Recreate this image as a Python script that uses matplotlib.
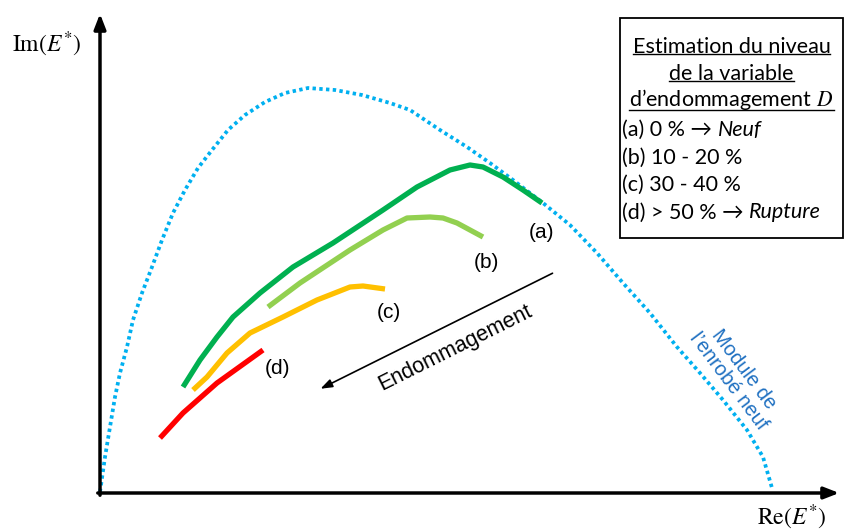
import matplotlib
matplotlib.use("Agg")
from matplotlib import pyplot as plt
from matplotlib.patches import Rectangle

# schematic values, Re / Im in arbitrary units (origin at axes crossing)
module_re = [0, 5, 10, 15, 20, 27, 33, 42, 52, 62, 73, 85, 98, 112, 128, 145, 165, 185, 208,
             235, 262, 290, 310, 340, 367, 390, 413, 443, 470, 497, 523, 550, 577, 600, 623,
             647, 663, 672]
module_im = [1, 36, 66, 96, 120, 146, 173, 200, 226, 253, 280, 303, 325, 343, 363, 378, 391,
             400, 405, 403, 398, 390, 383, 363, 346, 330, 313, 290, 268, 240, 210, 180, 146,
             120, 93, 63, 36, 5]

a_re = [83, 100, 117, 133, 160, 193, 233, 283, 317, 350, 370, 383, 403, 423, 442]
a_im = [106, 133, 156, 176, 200, 226, 250, 283, 306, 323, 328, 326, 316, 303, 290]
b_re = [168, 200, 250, 283, 307, 330, 343, 357, 383]
b_im = [186, 210, 243, 263, 275, 276, 275, 270, 256]
c_re = [93, 107, 127, 150, 183, 217, 250, 263, 285]
c_im = [103, 116, 140, 160, 176, 193, 206, 207, 204]
d_re = [60, 83, 117, 163]
d_im = [55, 80, 110, 143]

curves = [(a_re, a_im, '#00B050'), (b_re, b_im, '#92D050'),
          (c_re, c_im, '#FFC000'), (d_re, d_im, '#FF0000')]
curve_labels = ['(a)', '(b)', '(c)', '(d)']
label_pos = [(441, 261), (386, 231), (289, 181), (177, 125)]

title_lines = ['Estimation du niveau', 'de la variable', 'd\u2019endommagement $D$']
levels = [('(a) 0 % \u2192 ', 'Neuf'), ('(b) 10 - 20 %', ''),
          ('(c) 30 - 40 %', ''), ('(d) > 50 % \u2192 ', 'Rupture')]

fig = plt.figure(figsize=(8.46, 5.30), dpi=100)
ax = fig.add_axes([0, 0, 1, 1])
ax.set_xlim(-100, 746)
ax.set_ylim(-37, 493)
ax.axis('off')

# axes with arrows
ax.annotate('', xy=(0, 482), xytext=(0, -5),
            arrowprops=dict(arrowstyle='-|>,head_length=0.9,head_width=0.35', lw=2.5, color='black'))
ax.annotate('', xy=(742, 0), xytext=(-5, 0),
            arrowprops=dict(arrowstyle='-|>,head_length=0.9,head_width=0.35', lw=2.5, color='black'))
ax.text(-53, 449, r'$\mathrm{Im}(E^{*})$', fontsize=17, ha='center', va='center', math_fontfamily='stix')
ax.text(692, -24, r'$\mathrm{Re}(E^{*})$', fontsize=17, ha='center', va='center', math_fontfamily='stix')

# module of the new mix
ax.plot(module_re, module_im, color='#00B0F0', lw=2.7, linestyle=(0, (0.9, 0.9)))

for (xs, ys, col) in curves:
    ax.plot(xs, ys, color=col, lw=3.8, solid_capstyle='butt', solid_joinstyle='round')

for lab, (x, y) in zip(curve_labels, label_pos):
    ax.text(x, y, lab, fontsize=15, family='Liberation Sans', ha='center', va='center')

# damage arrow
ax.annotate('', xy=(218, 103), xytext=(455, 221),
            arrowprops=dict(arrowstyle='-|>,head_length=0.7,head_width=0.25', lw=1.2, color='black'))
ax.text(355, 145, 'Endommagement', fontsize=15.5, family='Liberation Sans',
        rotation=26.5, rotation_mode='anchor', ha='center', va='center')

ax.text(636, 118, 'Module de\nl\u2019enrob\u00e9 neuf', fontsize=14.5, family='Liberation Sans',
        color='#1F70C1', rotation=-53, rotation_mode='anchor', ha='center', va='center',
        linespacing=1.0)

# legend box
ax.add_patch(Rectangle((520, 255), 223, 220, fill=False, lw=1.3, edgecolor='black'))
cx = 631.5
fs = 15.5
title_texts = []
for i, line in enumerate(title_lines):
    title_texts.append(ax.text(cx, 446 - 26.5 * i, line, fontsize=fs, family='Lato',
                               ha='center', va='center', math_fontfamily='stix'))
for i, (plain, ital) in enumerate(levels):
    t = ax.text(522, 363 - 27.5 * i, plain, fontsize=fs, family=['Lato', 'DejaVu Sans'],
                ha='left', va='center')
    if ital:
        ax.annotate(ital, xy=(1, 0), xycoords=t, va='bottom', ha='left', fontsize=fs,
                    family='Lato', style='italic')

# underline the title
fig.canvas.draw()
r = fig.canvas.get_renderer()
inv = ax.transData.inverted()
for t in title_texts:
    bb = t.get_window_extent(r)
    (x0, y0), (x1, _) = inv.transform([(bb.x0, bb.y0), (bb.x1, bb.y0)])
    ax.plot([x0, x1], [y0 + 3, y0 + 3], color='black', lw=1.0)

fig.savefig('out.png', dpi=100)
